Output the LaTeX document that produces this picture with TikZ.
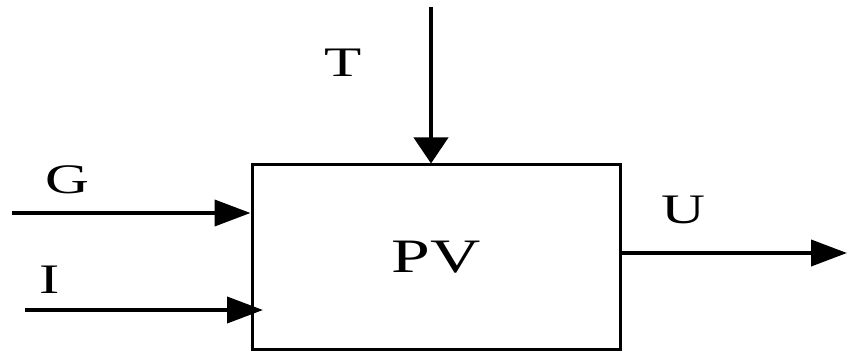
\documentclass[tikz,border=0pt]{standalone}
\usepackage{fontspec}
\setmainfont{Liberation Serif}[FakeStretch=1.45]
\usetikzlibrary{arrows.meta}

\begin{document}
\begin{tikzpicture}[x=1pt,y=1pt,
    lbl/.style={font=\fontsize{42}{48}\selectfont},
    harr/.style={line width=4pt,-{Triangle[length=36pt,width=26pt]}},
    varr/.style={line width=4pt,-{Triangle[length=26pt,width=34pt]}}]

    % 描画範囲
    \useasboundingbox (0,0) rectangle (848,356);

    % ブロック PV
    \node[draw,line width=3pt,minimum width=368pt,minimum height=184pt,
          font=\fontsize{48}{54}\selectfont] (pv) at (436,99) {PV};

    % 入力と出力の端点
    \coordinate (gin) at (12,143);
    \coordinate (iin) at (25,46);
    \coordinate (iend) at (263,46);
    \coordinate (tin) at (431,349);
    \coordinate (uout) at (847,103);

    % 矢印
    \draw[harr] (gin) -- (gin -| pv.west);
    \draw[harr] (iin) -- (iend);
    \draw[varr] (tin) -- (tin |- pv.north);
    \draw[harr] (uout -| pv.east) -- (uout);

    % ラベル
    \node[lbl] (glbl) at (67,176) {G};
    \node[lbl] (ilbl) at (50,76) {I};
    \node[lbl] (tlbl) at (343,293) {T};
    \node[lbl] (ulbl) at (683,146) {U};
    %
\end{tikzpicture}
\end{document}
